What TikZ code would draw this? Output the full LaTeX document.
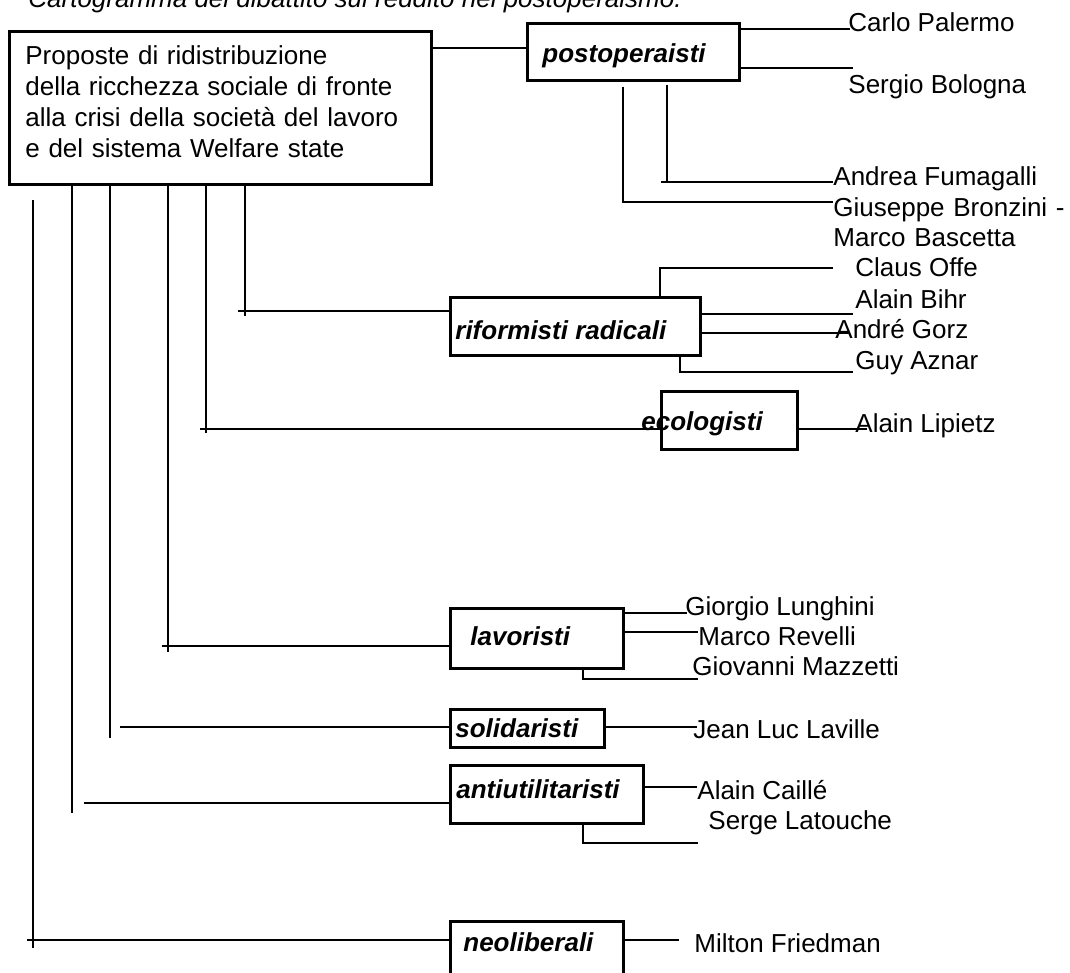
\documentclass[tikz,border=0pt]{standalone}
\usepackage{fontspec}
\setmainfont{Liberation Sans}
\newcommand\testo{\fontsize{13}{15.5}\selectfont}
\tikzset{
  riquadro/.style n args={2}{draw, line width=1.4pt, inner sep=0pt, anchor=north west,
    minimum width=#1*0.5pt, minimum height=#2*0.5pt},
  gruppo/.style={font=\testo\bfseries\itshape, anchor=base west, inner sep=0pt},
  autore/.style={font=\testo, anchor=base west, inner sep=0pt},
  ramo/.style={line width=1.3pt}
}
\begin{document}
\begin{tikzpicture}[x=0.5pt,y=-0.5pt]
\useasboundingbox (0,0) rectangle (1070,973);

\node[autore, font=\testo\itshape] (titolo) at (28,8) {Cartogramma del dibattito sul reddito nel postoperaismo.};

% riquadri
\node[riquadro={422}{153}] (prop) at (8,30) {};
\node[riquadro={212}{57}] (post) at (526,22) {};
\node[riquadro={250}{58}] (rif)  at (449,296) {};
\node[riquadro={136}{58}] (eco)  at (660,390) {};
\node[riquadro={173}{60}] (lav)  at (449,607) {};
\node[riquadro={154}{38}] (sol)  at (449,708) {};
\node[riquadro={193}{58}] (anti) at (449,764) {};
\node[riquadro={173}{90}] (neo)  at (449,920) {};

\node[autore, text width=205pt, align=left] (prop-t) at (25,65)
  {Proposte di ridistribuzione\\della ricchezza sociale di fronte\\alla crisi della società del lavoro\\e del sistema Welfare state};

\node[gruppo] (post-t) at (542,63)  {postoperaisti};
\node[gruppo] (rif-t)  at (455,339) {riformisti radicali};
\node[gruppo] (eco-t)  at (641,430) {ecologisti};
\node[gruppo] (lav-t)  at (470,645) {lavoristi};
\node[gruppo] (sol-t)  at (455,737) {solidaristi};
\node[gruppo] (anti-t) at (456,798) {antiutilitaristi};
\node[gruppo] (neo-t)  at (463,951) {neoliberali};

% autori
\node[autore] (palermo)   at (848,32)  {Carlo Palermo};
\node[autore] (bologna)   at (848,94)  {Sergio Bologna};
\node[autore] (fumagalli) at (833,186) {Andrea Fumagalli};
\node[autore, font=\fontsize{13}{15}\selectfont, text width=150pt, align=left] (bronzini) at (833,217)
  {Giuseppe Bronzini -\\Marco Bascetta};
\node[autore] (offe)      at (855,277) {Claus Offe};
\node[autore] (bihr)      at (855,308) {Alain Bihr};
\node[autore] (gorz)      at (835,338) {André Gorz};
\node[autore] (aznar)     at (855,369) {Guy Aznar};
\node[autore] (lipietz)   at (855,432) {Alain Lipietz};
\node[autore] (lunghini)  at (685,615) {Giorgio Lunghini};
\node[autore] (revelli)   at (698,645) {Marco Revelli};
\node[autore] (mazzetti)  at (692,675) {Giovanni Mazzetti};
\node[autore] (laville)   at (693,738) {Jean Luc Laville};
\node[autore] (caille)    at (697,799) {Alain Caillé};
\node[autore] (latouche)  at (708,829) {Serge Latouche};
\node[autore] (friedman)  at (694,952) {Milton Friedman};

% estremi dei rami
\coordinate (P1) at (850,29);
\coordinate (P2) at (853,68);
\coordinate (P3) at (833,182);
\coordinate (P4) at (833,202);
\coordinate (R1) at (833,268);
\coordinate (R2) at (853,314);
\coordinate (R3) at (850,333);
\coordinate (R4) at (853,372);
\coordinate (E1) at (867,429);
\coordinate (L1) at (687,613);
\coordinate (L2) at (698,632);
\coordinate (L3) at (698,679);
\coordinate (S1) at (697,727);
\coordinate (A1) at (697,787);
\coordinate (A2) at (698,843);
\coordinate (N1) at (679,940);

% partenze a sinistra
\coordinate (Hrif)  at (238,311);
\coordinate (Heco)  at (200,429);
\coordinate (Hlav)  at (162,646);
\coordinate (Hsol)  at (120,727);
\coordinate (Hanti) at (84,803);
\coordinate (Hneo)  at (27,940);

\foreach \x/\y in {245/316,206/433,168/652,110/738,72/813}
{
    \draw[ramo] (prop.south -| \x,0) -- (\x,\y);
}
\draw[ramo] (33,200) -- (33,948);

\draw[ramo] (prop.east |- 0,48) -- (post.west |- 0,48);
\foreach \g in {rif,eco,lav,sol,anti,neo}
{
    \draw[ramo] (H\g) -- (\g.west |- H\g);
}

\draw[ramo] (post.east |- P1) -- (P1);
\draw[ramo] (post.east |- P2) -- (P2);
\draw[ramo] (667,85) -- (667,182);
\draw[ramo] (661,182) -- (P3);
\draw[ramo] (623,87) |- (P4);

\draw[ramo] (rif.north -| 660,0) |- (R1);
\draw[ramo] (rif.east |- R2) -- (R2);
\draw[ramo] (rif.east |- R3) -- (R3);
\draw[ramo] (rif.south -| 680,0) |- (R4);

\draw[ramo] (eco.east |- E1) -- (E1);

\draw[ramo] (lav.east |- L1) -- (L1);
\draw[ramo] (lav.east |- L2) -- (L2);
\draw[ramo] (lav.south -| 583,0) |- (L3);

\draw[ramo] (sol.east |- S1) -- (S1);

\draw[ramo] (anti.east |- A1) -- (A1);
\draw[ramo] (anti.south -| 583,0) |- (A2);

\draw[ramo] (neo.east |- N1) -- (N1);
\end{tikzpicture}
\end{document}
